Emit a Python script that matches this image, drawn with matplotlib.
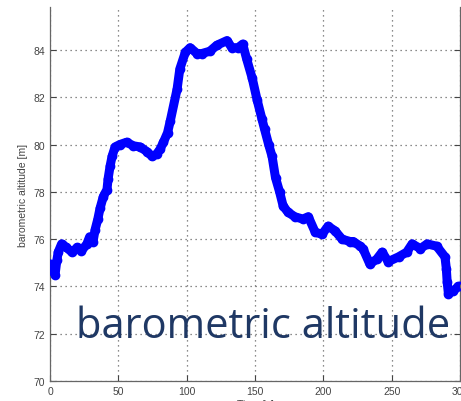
import matplotlib
matplotlib.use("Agg")
import matplotlib.pyplot as plt

# time [s] and barometric altitude [m]
t = [0, 2.3, 3.7, 5, 6, 8.5, 12, 16, 20, 23, 27, 29, 31.5, 33, 35, 36.6, 39,
     41.7, 42.5, 44, 45.4, 47.6, 51, 56, 61, 66, 71, 74.7, 78, 80.5, 83, 86,
     88, 93, 95, 99, 102.5, 107.6, 111, 117, 122, 129.5, 133, 137.6, 141,
     144, 148, 151.5, 155, 157, 160, 162.5, 165, 168, 170.6, 174, 179, 185,
     189, 194, 199, 203.5, 208.6, 213.7, 219.6, 222, 227, 229, 234, 239, 243,
     247.5, 255, 261, 265, 271, 276, 283, 289, 290, 290.6, 291.5, 295, 298.7, 300]
alt = [74.95, 74.65, 74.5, 75.1, 75.45, 75.8, 75.65, 75.45, 75.65, 75.5, 75.8,
       76.1, 75.9, 76.4, 76.85, 77.3, 77.8, 78.1, 78.55, 79.1, 79.5, 79.9, 80.0,
       80.1, 79.95, 79.9, 79.7, 79.5, 79.6, 79.8, 80.1, 80.5, 81.0, 82.35, 83.2,
       83.9, 84.1, 83.85, 83.85, 83.95, 84.2, 84.4, 84.1, 84.1, 84.25, 83.6,
       82.8, 81.9, 81.1, 80.65, 80.0, 79.5, 78.6, 78.0, 77.4, 77.15, 76.95,
       76.85, 76.95, 76.3, 76.2, 76.55, 76.35, 76.0, 75.9, 75.9, 75.7, 75.6,
       74.95, 75.15, 75.45, 75.05, 75.25, 75.45, 75.8, 75.6, 75.8, 75.7, 75.25,
       74.75, 74.2, 73.7, 73.8, 74.0, 74.0]

xticks = [0, 50, 100, 150, 200, 250, 300]
yticks = [70, 72, 74, 76, 78, 80, 82, 84]

plt.rcParams['font.family'] = ['Liberation Sans', 'DejaVu Sans']

fig = plt.figure(figsize=(4.61, 4.02), dpi=100)
ax = fig.add_axes([50/461, 20/402, 410/461, 374/402])

ax.plot(t, alt, '-', color='#0000ff', lw=6.5, solid_joinstyle='round',
        solid_capstyle='round', zorder=3)
ax.plot(t, alt, 'o', color='#0000ff', ms=5.5, mfc='none', mew=1.5, zorder=4)

ax.set_xlim(0, 300)
ax.set_ylim(70, 85.82)
ax.set_xticks(xticks)
ax.set_yticks(yticks)
ax.grid(True, linestyle=(0, (1, 3)), color='#666666', lw=0.9)
ax.tick_params(direction='in', length=4, labelsize=7.5, colors='#444444',
               right=True, top=False)
for s in ax.spines.values():
    s.set_color('#666666')
    s.set_linewidth(0.9)
ax.spines['top'].set_visible(False)
ax.set_xlabel('Time [s]', fontsize=7.5, color='#444444', labelpad=2)
ax.set_ylabel('barometric altitude [m]', fontsize=7.5, color='#444444', labelpad=4)

fig.text(76/461, (402-338)/402, 'barometric altitude', family='Open Sans',
         fontsize=30, color='#1f3864', va='baseline', ha='left')

plt.savefig('out.png', dpi=100)
